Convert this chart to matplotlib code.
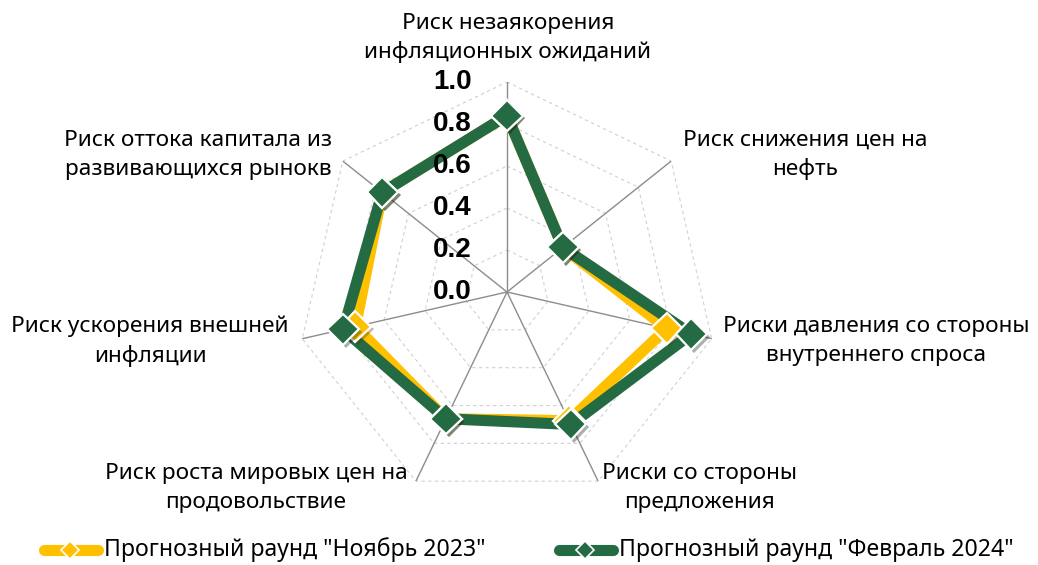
import numpy as np
import matplotlib.pyplot as plt
import matplotlib.patheffects as pe

plt.rcParams["font.family"] = ["Noto Sans", "DejaVu Sans"]

categories = [
    "Риск незаякорения\nинфляционных ожиданий",
    "Риск снижения цен на\nнефть",
    "Риски давления со стороны\nвнутреннего спроса",
    "Риски со стороны\nпредложения",
    "Риск роста мировых цен на\nпродовольствие",
    "Риск ускорения внешней\nинфляции",
    "Риск оттока капитала из\nразвивающихся рынокв",
]
nov_2023 = [0.84, 0.34, 0.78, 0.68, 0.67, 0.74, 0.76]
feb_2024 = [0.84, 0.34, 0.90, 0.70, 0.67, 0.80, 0.76]
series_names = ['Прогнозный раунд "Ноябрь 2023"', 'Прогнозный раунд "Февраль 2024"']
r_ticks = [0.0, 0.2, 0.4, 0.6, 0.8, 1.0]

# label positions in pixels (x, y from top)
label_pos = [(508, 38), (805, 155), (876, 341), (700, 488),
             (256, 488), (150, 341), (198, 155)]

W, H = 1038, 565
fig = plt.figure(figsize=(W / 100, H / 100), dpi=100)
cx, cy, R = 507, 292, 210
ax = fig.add_axes([(cx - R) / W, 1 - (cy + R) / H, 2 * R / W, 2 * R / H],
                  projection="polar")
ax.set_theta_zero_location("N")
ax.set_theta_direction(-1)
ax.set_ylim(0, 1)
ax.grid(False)
ax.spines["polar"].set_visible(False)
ax.set_xticks([])
ax.set_yticks([])

n = len(categories)
angles = np.linspace(0, 2 * np.pi, n, endpoint=False)
closed = np.append(angles, angles[0])

for r in r_ticks[1:]:
    ax.plot(closed, [r] * (n + 1), ls=(0, (3, 3)), color="#d0d0d0", lw=0.8, zorder=1)
for a in angles:
    ax.plot([a, a], [0, 1], color="#8c8c8c", lw=1.0, zorder=1)

shadow = [pe.SimplePatchShadow(offset=(2, -2), alpha=0.35), pe.Normal()]
for vals, col in [(nov_2023, "#FFC000"), (feb_2024, "#246B43")]:
    v = np.append(vals, vals[0])
    ax.plot(closed, v, color=col, lw=8, solid_joinstyle="miter", zorder=3)
    ax.plot(angles, vals, ls="none", marker="D", ms=16, mfc=col, mec="white",
            mew=1.6, zorder=4, path_effects=shadow)

for r in r_ticks:
    ax.annotate(f"{r:.1f}", xy=(0, r), xytext=(-35, 0), textcoords="offset pixels",
                ha="right", va="center", fontsize=20, fontweight="bold",
                family="Liberation Sans", zorder=5)

for lab, (x, y) in zip(categories, label_pos):
    fig.text(x / W, 1 - y / H, lab, ha="center", va="center", fontsize=16.3,
             linespacing=1.45)

# legend
for name, col, x0 in [(series_names[0], "#FFC000", 40), (series_names[1], "#246B43", 555)]:
    y = 1 - 550 / H
    fig.lines.append(plt.Line2D([(x0 + 4) / W, (x0 + 58) / W], [y, y], color=col, lw=8,
                                solid_capstyle="round", transform=fig.transFigure))
    fig.lines.append(plt.Line2D([(x0 + 30) / W], [y], marker="D", ms=9, mfc=col,
                                mec="white", mew=1.2, transform=fig.transFigure))
    fig.text((x0 + 64) / W, y, name, ha="left", va="center", fontsize=16.6)

fig.savefig("out.png", dpi=100)
